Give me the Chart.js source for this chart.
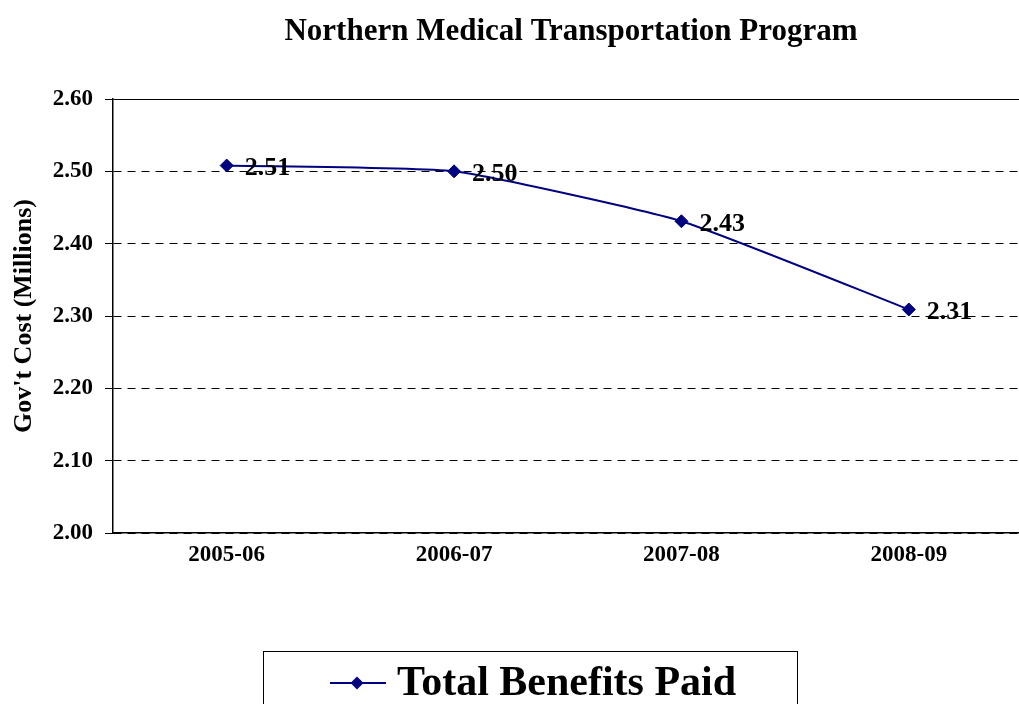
<!DOCTYPE html>
<html>
<head>
<meta charset="utf-8">
<title>Northern Medical Transportation Program</title>
<script src="https://cdn.jsdelivr.net/npm/chart.js@4.4.0/dist/chart.umd.min.js"></script>
<style>
  html, body { margin: 0; padding: 0; background: #ffffff; overflow: hidden; }
  canvas { display: block; }
</style>
</head>
<body>
<!-- canvas is a little wider than the window: the plot runs past the right edge like the original -->
<canvas id="myChart" width="1030" height="704"></canvas>
<script>
// fiscal years on the x axis
const years = ['2005-06', '2006-07', '2007-08', '2008-09'];
// government cost, millions
const benefitsPaid = [2.508, 2.500, 2.431, 2.309];
const seriesName = 'Total Benefits Paid';
const chartTitle = 'Northern Medical Transportation Program';
const yAxisTitle = "Gov't Cost (Millions)";

const serif = "'Liberation Serif', 'Times New Roman', serif";
const navy = '#000080';

// value labels next to each point
const valueLabels = {
  id: 'valueLabels',
  afterDatasetsDraw(chart) {
    const ctx = chart.ctx;
    const meta = chart.getDatasetMeta(0);
    ctx.save();
    ctx.font = 'bold 26px ' + serif;
    ctx.fillStyle = '#000000';
    ctx.textAlign = 'left';
    ctx.textBaseline = 'middle';
    meta.data.forEach(function (pt, i) {
      ctx.fillText(benefitsPaid[i].toFixed(2), pt.x + 18, pt.y + 3);
    });
    ctx.restore();
  }
};

// title and the boxed legend at the bottom
const titleAndLegend = {
  id: 'titleAndLegend',
  afterDraw(chart) {
    const ctx = chart.ctx;
    ctx.save();
    ctx.fillStyle = '#000000';
    ctx.font = 'bold 31px ' + serif;
    ctx.textAlign = 'center';
    ctx.textBaseline = 'middle';
    ctx.fillText(chartTitle, 571, 32);

    // legend box
    ctx.strokeStyle = '#000000';
    ctx.lineWidth = 1;
    ctx.strokeRect(263.5, 651.5, 534, 100);

    ctx.strokeStyle = navy;
    ctx.lineWidth = 2;
    ctx.beginPath();
    ctx.moveTo(330, 683);
    ctx.lineTo(386, 683);
    ctx.stroke();

    ctx.fillStyle = navy;
    ctx.beginPath();
    ctx.moveTo(357, 676.5);
    ctx.lineTo(363.5, 683);
    ctx.lineTo(357, 689.5);
    ctx.lineTo(350.5, 683);
    ctx.closePath();
    ctx.fill();

    ctx.fillStyle = '#000000';
    ctx.font = 'bold 42px ' + serif;
    ctx.textAlign = 'left';
    ctx.textBaseline = 'alphabetic';
    ctx.fillText(seriesName, 397, 695);
    ctx.restore();
  }
};

const data = {
  labels: years,
  datasets: [{
    label: seriesName,
    data: benefitsPaid,
    borderColor: navy,
    backgroundColor: navy,
    borderWidth: 2,
    tension: 0.15,
    pointStyle: 'rectRot',
    pointRadius: 6.5,
    pointBackgroundColor: navy,
    pointBorderColor: navy,
    pointBorderWidth: 1
  }]
};

const config = {
  type: 'line',
  data: data,
  options: {
    responsive: false,
    animation: false,
    devicePixelRatio: 1,
    layout: {
      padding: { top: 99, right: 6, bottom: 0, left: 0 }
    },
    plugins: {
      legend: { display: false },
      title: { display: false },
      tooltip: { enabled: false }
    },
    scales: {
      x: {
        offset: true,
        grid: { display: false, drawTicks: false },
        border: { display: true, color: '#000000', width: 1.5 },
        ticks: {
          color: '#000000',
          padding: 8,
          font: { family: serif, size: 23, weight: 'bold' }
        },
        afterFit(scale) { scale.height = 171; }
      },
      y: {
        min: 2.0,
        max: 2.6,
        ticks: {
          stepSize: 0.1,
          color: '#000000',
          padding: 12,
          font: { family: serif, size: 23, weight: 'bold' },
          callback: function (v) { return Number(v).toFixed(2); }
        },
        grid: {
          color: '#000000',
          lineWidth: 1,
          tickLength: 8,
          tickColor: '#000000'
        },
        border: {
          display: true,
          color: '#000000',
          width: 1.5,
          dash: function (ctx) {
            return (ctx.tick && ctx.tick.value > 2.599) ? [] : [8, 6];
          }
        },
        title: {
          display: true,
          text: yAxisTitle,
          color: '#000000',
          padding: { top: 9, bottom: 0 },
          font: { family: serif, size: 26, weight: 'bold' }
        },
        afterFit(scale) { scale.width = 113; }
      }
    }
  },
  plugins: [valueLabels, titleAndLegend]
};

const myChart = new Chart(
  document.getElementById('myChart'),
  config
);
</script>
</body>
</html>
